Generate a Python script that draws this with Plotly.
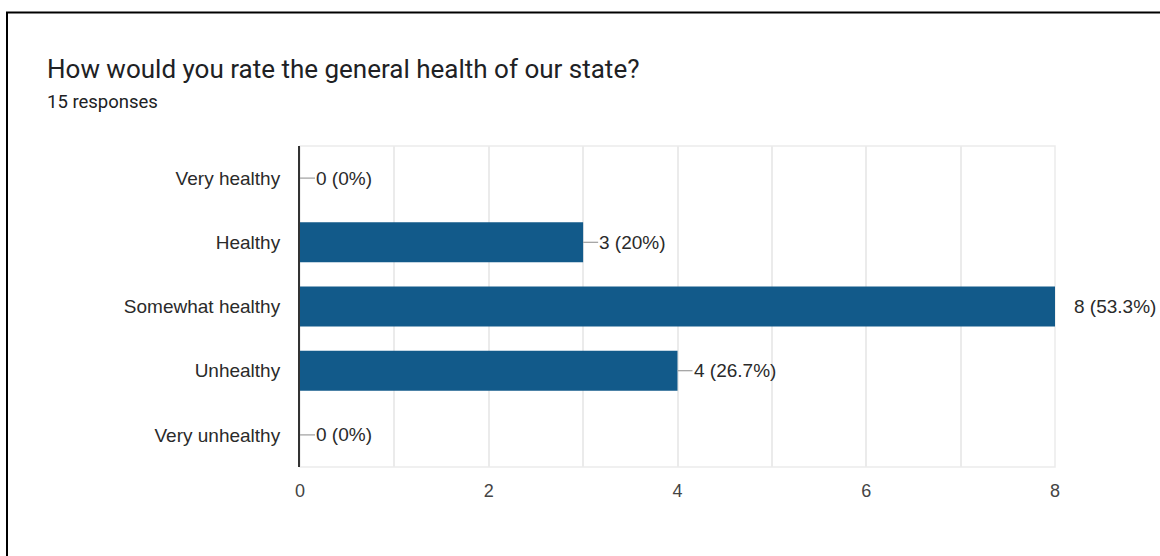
import plotly.graph_objects as go

# Survey results
categories = ["Very healthy", "Healthy", "Somewhat healthy", "Unhealthy", "Very unhealthy"]
counts = [0, 3, 8, 4, 0]
x_ticks = [0, 2, 4, 6, 8]
question = "How would you rate the general health of our state?"
total = 15

W, H = 1160, 556
ML, MR, MT, MB = 300, 105, 146, 89
PW, PH = W - ML - MR, H - MT - MB


def px_x(p):
    return (p - ML) / PW


def px_y(p):
    return (H - MB - p) / PH


def pct_label(v):
    pct = round(v / total * 100, 1)
    s = f"{pct:.1f}".rstrip("0").rstrip(".")
    return f"{v} ({s}%)"


BAR = "#125a8a"
GRID = "#ebebeb"
LABEL_FONT = "Liberation Sans, Arial"

fig = go.Figure(
    go.Bar(
        x=counts,
        y=categories,
        orientation="h",
        marker=dict(color=BAR, line=dict(width=0)),
        hoverinfo="skip",
    )
)

shapes = [
    # plot frame
    dict(type="rect", xref="paper", yref="paper", x0=0, x1=1, y0=0, y1=1,
         line=dict(color=GRID, width=1.5), layer="below"),
    # outer card border (top and left edges)
    dict(type="path", xref="paper", yref="paper",
         path=f"M {px_x(7)},{px_y(H + 5)} L {px_x(7)},{px_y(12.5)} L {px_x(W + 5)},{px_y(12.5)}",
         line=dict(color="#000000", width=2)),
]

annotations = [
    dict(text=question, xref="paper", yref="paper", x=px_x(45), y=px_y(69),
         xanchor="left", yanchor="middle", showarrow=False,
         font=dict(family="Roboto", size=26, color="#202124")),
    dict(text=f"{total} responses", xref="paper", yref="paper", x=px_x(45), y=px_y(101.5),
         xanchor="left", yanchor="middle", showarrow=False,
         font=dict(family="Roboto", size=18.5, color="#202124")),
]

for cat, v in zip(categories, counts):
    shapes.append(dict(type="line", xref="x", yref="y", xsizemode="pixel", xanchor=v,
                       x0=0, x1=15, y0=cat, y1=cat,
                       line=dict(color="#9e9e9e", width=1.2)))
    annotations.append(dict(text=pct_label(v), xref="x", yref="y", x=v, y=cat,
                            xanchor="left", yanchor="middle", xshift=14 if v < 8 else 17,
                            showarrow=False,
                            font=dict(family=LABEL_FONT, size=19, color="#2a2a2a")))

fig.update_layout(
    width=W, height=H,
    margin=dict(l=ML, r=MR, t=MT, b=MB, pad=0),
    paper_bgcolor="white", plot_bgcolor="white",
    bargap=0.375,
    showlegend=False,
    shapes=shapes,
    annotations=annotations,
    font=dict(family=LABEL_FONT, size=18.5, color="#222222"),
)

fig.update_xaxes(
    range=[0, 8], tickvals=x_ticks, ticktext=[str(t) for t in x_ticks],
    showgrid=True, gridcolor=GRID, gridwidth=1.5,
    minor=dict(dtick=1, showgrid=True, gridcolor=GRID, gridwidth=1.5),
    zeroline=False, showline=False, ticks="",
    tickfont=dict(family=LABEL_FONT, size=18, color="#444444"),
    ticklabelstandoff=11,
    fixedrange=True,
)
fig.update_yaxes(
    categoryorder="array", categoryarray=categories[::-1],
    showgrid=False, zeroline=False,
    showline=True, linecolor="#333333", linewidth=2,
    ticks="", ticklabelstandoff=14,
    tickfont=dict(family=LABEL_FONT, size=19, color="#2a2a2a"),
    fixedrange=True,
)

fig.write_html("out.html", config={"displayModeBar": False})
